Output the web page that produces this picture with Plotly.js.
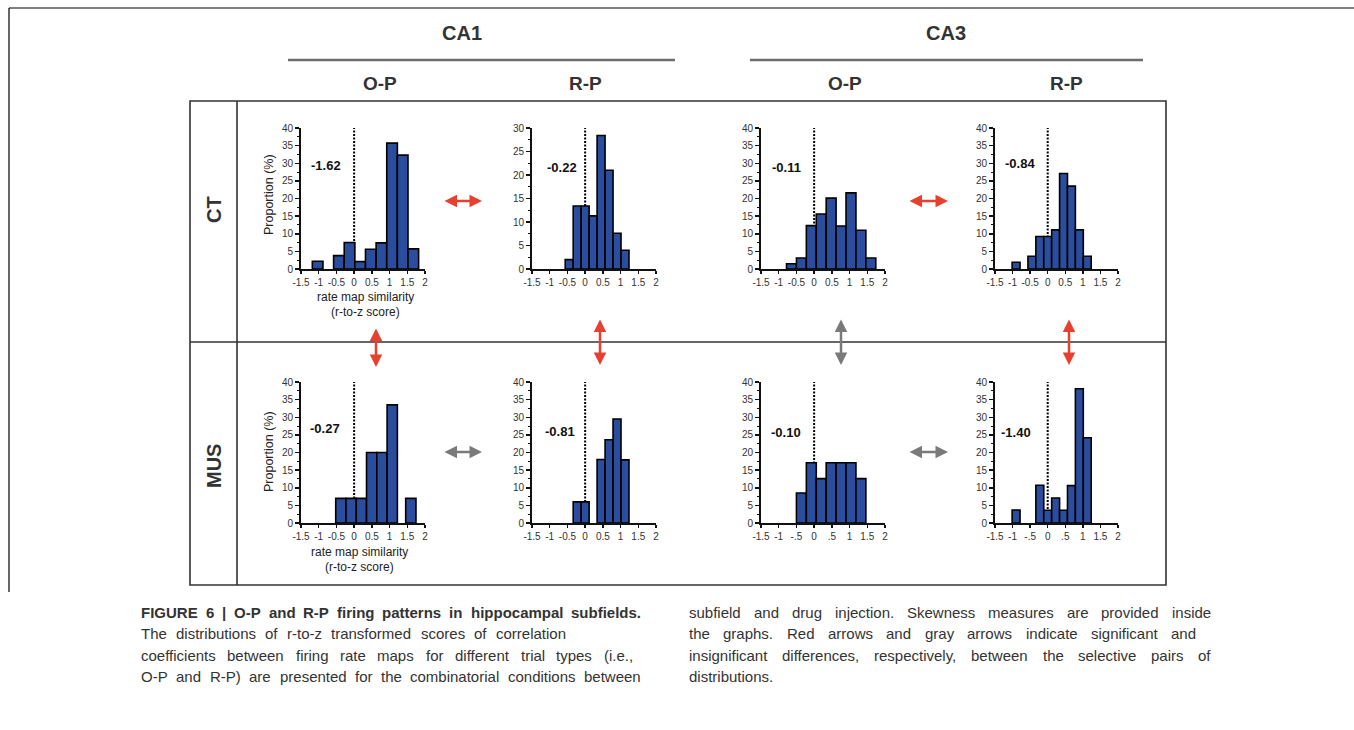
<!DOCTYPE html>
<html><head><meta charset="utf-8">
<script src="https://cdn.plot.ly/plotly-3.0.1.min.js"></script>
<style>html,body{margin:0;padding:0;background:#fff;overflow:hidden}</style>
</head><body><div id="chart" style="width:1354px;height:730px"></div>
<script>
// ---------------- DATA ----------------
// bin centres (r-to-z score) and proportions (%)
const ctCa1OpCenters = [-1.03, -0.43, -0.13, 0.17, 0.47, 0.77, 1.07, 1.37, 1.67];
const ctCa1OpValues  = [2.2, 3.8, 7.5, 2.1, 5.6, 7.4, 35.7, 32.3, 5.7];
const ctCa1RpCenters = [-0.45, -0.225, 0, 0.225, 0.45, 0.675, 0.9, 1.125];
const ctCa1RpValues  = [2.0, 13.4, 13.4, 11.3, 28.4, 21.0, 7.6, 4.0];
const ctCa3OpCenters = [-0.64, -0.36, -0.08, 0.20, 0.48, 0.76, 1.04, 1.32, 1.60];
const ctCa3OpValues  = [1.5, 3.1, 12.3, 15.6, 20.1, 12.2, 21.6, 11.0, 3.1];
const ctCa3RpCenters = [-0.9, -0.45, -0.225, 0, 0.225, 0.45, 0.675, 0.9, 1.125];
const ctCa3RpValues  = [1.9, 3.6, 9.2, 9.2, 11.1, 27.1, 23.5, 11.1, 3.6];
const musCa1OpCenters = [-0.375, -0.085, 0.205, 0.495, 0.785, 1.075, 1.6];
const musCa1OpValues  = [7.0, 7.0, 7.0, 20.0, 20.0, 33.5, 7.0];
const musCa1RpCenters = [-0.225, 0, 0.45, 0.675, 0.9, 1.125];
const musCa1RpValues  = [6.0, 6.0, 18.0, 23.6, 29.5, 17.9];
const musCa3OpCenters = [-0.36, -0.08, 0.20, 0.48, 0.76, 1.04, 1.32];
const musCa3OpValues  = [8.5, 17.1, 12.6, 17.1, 17.1, 17.1, 12.6];
const musCa3RpCenters = [-0.9, -0.225, 0, 0.225, 0.45, 0.675, 0.9, 1.125];
const musCa3RpValues  = [3.7, 10.7, 3.6, 7.1, 3.6, 10.6, 38.1, 24.2];

const binWidths = [0.3, 0.225, 0.28, 0.225, 0.29, 0.225, 0.28, 0.225];
const skewness  = ['-1.62', '-0.22', '-0.11', '-0.84', '-0.27', '-0.81', '-0.10', '-1.40'];
const yMaxima   = [40, 30, 40, 40, 40, 40, 40, 40];

const xTickVals      = [-1.5, -1, -0.5, 0, 0.5, 1, 1.5, 2];
const xTickTextFull  = ['-1.5', '-1', '-0.5', '0', '0.5', '1', '1.5', '2'];
const xTickTextShort = ['-1.5', '-1', '-.5', '0', '.5', '1', '1.5', '2'];

const subfields  = ['CA1', 'CA3'];
const trialTypes = ['O-P', 'R-P', 'O-P', 'R-P'];
const conditions = ['CT', 'MUS'];
const yTitle = 'Proportion (%)';
const xTitleLines = ['rate map similarity', '(r-to-z score)'];

const captionLeft = [
  'FIGURE 6 | O-P and R-P firing patterns in hippocampal subfields.',
  'The distributions of r-to-z transformed scores of correlation',
  'coefficients between firing rate maps for different trial types (i.e.,',
  'O-P and R-P) are presented for the combinatorial conditions between'
];
const captionRight = [
  'subfield and drug injection. Skewness measures are provided inside',
  'the graphs. Red arrows and gray arrows indicate significant and',
  'insignificant differences, respectively, between the selective pairs of',
  'distributions.'
];

// ---------------- LAYOUT ----------------
const W = 1354, H = 730;
const px = x => x / W, py = y => 1 - y / H;
const F = '"Liberation Sans", Arial, Helvetica, sans-serif';
const BLUE = '#2b4d9e', RED = '#e8402e', GRAY = '#7a7a7a', INK = '#333';

const panelData = [
  [ctCa1OpCenters, ctCa1OpValues], [ctCa1RpCenters, ctCa1RpValues],
  [ctCa3OpCenters, ctCa3OpValues], [ctCa3RpCenters, ctCa3RpValues],
  [musCa1OpCenters, musCa1OpValues], [musCa1RpCenters, musCa1RpValues],
  [musCa3OpCenters, musCa3OpValues], [musCa3RpCenters, musCa3RpValues]
];
const colX = [[301, 425], [532, 656], [761, 885], [995, 1118]];
const rowY = [[128, 269], [382, 523]];
const skewPos = [[326,165],[562,167],[786,167],[1020,164],[325,428],[560,431],[786,433],[1016,433]];

const traces = [];
const layout = {
  width: W, height: H, margin: {l:0, r:0, t:0, b:0},
  paper_bgcolor: '#fff', plot_bgcolor: 'rgba(0,0,0,0)',
  showlegend: false, font: {family: F, color: INK},
  shapes: [], annotations: []
};

function label(x, y, text, font, extra) {
  layout.annotations.push(Object.assign({xref:'paper', yref:'paper', x:px(x), y:py(y),
    xanchor:'center', yanchor:'middle', text:text, showarrow:false, font:font}, extra || {}));
}

panelData.forEach((pd, i) => {
  const n = i + 1, s = n > 1 ? n : '';
  const col = i % 4, row = Math.floor(i / 4);
  const ymax = yMaxima[i];
  traces.push({
    type: 'bar', x: pd[0], y: pd[1], width: binWidths[i],
    xaxis: 'x' + s, yaxis: 'y' + s,
    marker: {color: BLUE, line: {color: '#000', width: 1.6}},
    hoverinfo: 'skip'
  });
  layout['xaxis' + s] = {
    domain: [px(colX[col][0]), px(colX[col][1])], anchor: 'y' + s,
    range: [-1.5, 2], showline: true, linecolor: '#111', linewidth: 2,
    ticks: 'outside', ticklen: 3, tickwidth: 1.5, tickcolor: '#111',
    tickmode: 'array', tickvals: xTickVals,
    ticktext: (i === 6 || i === 7) ? xTickTextShort : xTickTextFull,
    tickangle: 0, tickfont: {size: 10, color: INK, family: F},
    showgrid: false, zeroline: false, fixedrange: true
  };
  layout['yaxis' + s] = {
    domain: [py(rowY[row][1]), py(rowY[row][0])], anchor: 'x' + s,
    range: [0, ymax], showline: true, linecolor: '#111', linewidth: 2,
    ticks: 'outside', ticklen: 4, tickwidth: 1.5, tickcolor: '#111',
    tickmode: 'linear', tick0: 0, dtick: 5,
    minor: {tickmode: 'linear', tick0: 0, dtick: 2.5, ticks: 'outside', ticklen: 2, tickwidth: 1, tickcolor: '#111'},
    tickfont: {size: 10, color: INK, family: F},
    showgrid: false, zeroline: false, fixedrange: true
  };
  // dashed zero line
  layout.shapes.push({type: 'line', xref: 'x' + s, yref: 'y' + s, x0: 0, x1: 0, y0: 0, y1: ymax,
    line: {color: '#000', width: 2, dash: '2px,1.5px'}, layer: 'below'});
  // skewness
  label(skewPos[i][0], skewPos[i][1], '<b>' + skewness[i] + '</b>', {size: 13, color: '#111', family: F});
});

// axis titles for CA1 O-P panels
[[269, 195], [269, 452]].forEach(p => label(p[0], p[1], yTitle, {size: 12.5, color: '#222', family: F}, {textangle: -90}));
[[366, 297], [359, 552]].forEach(p => {
  label(p[0], p[1], xTitleLines[0], {size: 12, color: '#222', family: F});
  label(p[0], p[1] + 15, xTitleLines[1], {size: 12, color: '#222', family: F});
});

// headers
[[462, 33], [946, 33]].forEach((p, k) => label(p[0], p[1], '<b>' + subfields[k] + '</b>', {size:20, color:INK, family:F}));
[[380, 84], [585, 84], [845, 84], [1066, 84]].forEach((p, k) => label(p[0], p[1], '<b>' + trialTypes[k] + '</b>', {size:19, color:INK, family:F}));
[[214, 210], [214, 466]].forEach((p, k) => label(p[0], p[1], '<b>' + conditions[k] + '</b>', {size:20, color:INK, family:F}, {textangle:-90}));

// frame lines
function pline(x0, y0, x1, y1, color, width) {
  layout.shapes.push({type:'line', xref:'paper', yref:'paper', x0:px(x0), y0:py(y0), x1:px(x1), y1:py(y1),
    line:{color:color, width:width}});
}
pline(9, 8, 1354, 8, '#000', 1.2);
pline(9, 8, 9, 592, '#000', 1.2);
pline(288, 60, 675, 60, '#6d6d6d', 2.5);
pline(750, 60, 1143, 60, '#6d6d6d', 2.5);
layout.shapes.push({type:'rect', xref:'paper', yref:'paper', x0:px(190), x1:px(1166), y0:py(585), y1:py(101),
  line:{color:'#333', width:1.6}});
pline(237, 101, 237, 585, '#333', 1.6);
pline(190, 342, 1166, 342, '#333', 1.6);

// double arrows
function arrow(x1, y1, x2, y2, color) {
  layout.annotations.push({xref:'paper', yref:'paper', x:px(x2), y:py(y2), axref:'pixel', ayref:'pixel',
    ax: x1 - x2, ay: y1 - y2, text:'', showarrow:true, arrowside:'end+start',
    arrowhead:2, startarrowhead:2, arrowsize:1, startarrowsize:1, arrowwidth:2.5,
    arrowcolor:color, standoff:0, startstandoff:0});
}
arrow(443, 201, 482, 201, RED);
arrow(908, 201, 948, 201, RED);
arrow(443, 452, 482, 452, GRAY);
arrow(908, 452, 948, 452, GRAY);
arrow(376, 327, 376, 367, RED);
arrow(600, 318, 600, 365, RED);
arrow(841, 318, 841, 365, GRAY);
arrow(1069, 318, 1069, 365, RED);

// caption, justified word by word
const ctx = document.createElement('canvas').getContext('2d');
function captionLine(text, x0, x1, y, bold, justify) {
  const size = 15;
  ctx.font = (bold ? 'bold ' : '') + size + 'px "Liberation Sans"';
  const words = text.split(' ');
  const widths = words.map(w => ctx.measureText(w).width);
  const total = widths.reduce((a, b) => a + b, 0);
  const gap = justify && words.length > 1 ? (x1 - x0 - total) / (words.length - 1) : ctx.measureText(' ').width;
  let cur = x0;
  words.forEach((w, k) => {
    layout.annotations.push({xref:'paper', yref:'paper', x:px(cur), y:py(y), xanchor:'left', yanchor:'middle',
      text: bold ? '<b>' + w + '</b>' : w, showarrow:false, borderpad:0,
      font:{size:size, color:'#333', family:F}});
    cur += widths[k] + gap;
  });
}
const capY = [612, 633, 655, 676];
const leftEnds = [640, 565, 632, 640];
const rightEnds = [1210, 1195, 1210, null];
captionLeft.forEach((t, k) => captionLine(t, 140, leftEnds[k], capY[k], k === 0, true));
captionRight.forEach((t, k) => captionLine(t, 688, rightEnds[k], capY[k], false, rightEnds[k] !== null));

Plotly.newPlot('chart', traces, layout, {staticPlot: true, displayModeBar: false});
</script></body></html>
